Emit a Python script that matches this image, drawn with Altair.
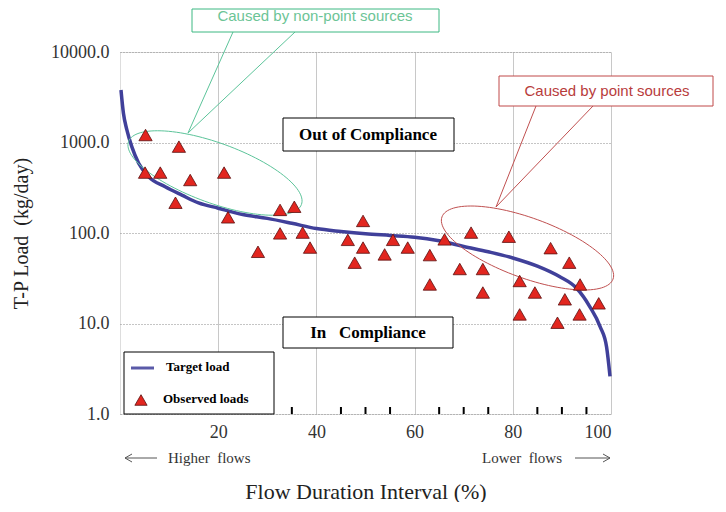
import altair as alt
import pandas as pd
import numpy as np

# ---------------- data ----------------
obs_x = [5.2, 12.0, 5.1, 8.2, 14.3, 21.2, 11.3, 22.0, 32.6, 35.5, 32.6, 28.1,
         37.2, 38.7, 49.5, 46.4, 49.5, 47.8, 55.6, 53.9, 58.6, 63.1, 63.1, 66.1, 69.2,
         71.5, 79.2, 87.7, 91.5, 93.7, 73.9, 73.9, 81.4, 84.5, 90.6, 97.5, 93.6, 81.4, 89.1]
obs_y = [1210, 900, 465, 465, 385, 465, 216, 149, 180, 195, 99, 62,
         101, 69, 136, 84, 69, 47, 84, 58, 69, 57, 27, 85, 40,
         101, 91, 68, 47, 27, 40, 22, 29.5, 22, 18.5, 16.7, 12.6, 12.6, 10.2]

target_x = [0.2, 0.7, 1.4, 2.4, 3.8, 5.8, 9.2, 12.6, 16, 20, 25, 30, 35, 40, 45, 50,
            55, 60, 65, 70, 75, 80, 85, 89.5, 93, 95.7, 97.8, 99.1, 99.8]
target_y = [3800, 2100, 1380, 900, 590, 420, 324, 262, 215, 188, 160, 145, 128, 112, 104, 98,
            94, 90, 82, 71, 62, 53, 43, 33, 24.5, 15.3, 9.2, 5.5, 2.6]

x_ticks = [20, 40, 60, 80, 100]
y_ticks = [1, 10, 100, 1000, 10000]
minor_ticks = [5, 10, 15, 25, 30, 35, 45, 50, 55, 65, 70, 75, 85, 90, 95]

W, H = 491, 362
SERIF = "Liberation Serif"
SANS = "Liberation Sans"

obs_df = pd.DataFrame({"x": obs_x, "y": obs_y})
tgt_df = pd.DataFrame({"x": target_x, "y": target_y})
minor_df = pd.DataFrame({"x": minor_ticks})

xscale = alt.Scale(domain=[0, 100], nice=False, zero=False)
yscale = alt.Scale(type="log", domain=[1, 10000], nice=False)


def ellipse_df(cx, cy, a, b, deg):
    # annotation outline, described in plot pixels, mapped into data units
    th = np.deg2rad(deg)
    t = np.linspace(0, 2 * np.pi, 121)
    px = cx + a * np.cos(th) * np.cos(t) - b * np.sin(th) * np.sin(t)
    py = cy + a * np.sin(th) * np.cos(t) + b * np.cos(th) * np.sin(t)
    return pd.DataFrame({"i": np.arange(len(t)), "x": px / W * 100,
                         "y": 10 ** (4 * (H - py) / H)})


one = pd.DataFrame({"a": [0]})

base_x = alt.X("x:Q", scale=xscale,
               axis=alt.Axis(values=x_ticks, grid=True, gridColor="#c8c8c8", gridWidth=1,
                             domain=False, ticks=False, labelFont=SERIF, labelFontSize=18,
                             labelColor="#333333", labelPadding=9,
                             title="Flow Duration Interval (%)", titleFont=SERIF,
                             titleFontSize=22, titleFontWeight="normal", titleColor="#222222",
                             titlePadding=40))
base_y = alt.Y("y:Q", scale=yscale,
               axis=alt.Axis(values=y_ticks, format=".1f", grid=True, gridColor="#8a8a8a",
                             gridDash=[1, 2], gridWidth=1, domain=False, ticks=False,
                             labelFont=SERIF, labelFontSize=18, labelColor="#333333",
                             labelPadding=11, title="T-P Load\u00a0\u00a0(kg/day)",
                             titleFont=SERIF, titleFontSize=20, titleFontWeight="normal",
                             titleColor="#222222", titlePadding=19))

curve = alt.Chart(tgt_df).mark_line(color="#40409a", strokeWidth=3.5,
                                    interpolate="monotone").encode(x=base_x, y=base_y)

pts = alt.Chart(obs_df).mark_point(shape="triangle-up", filled=True, size=175,
                                   fill="#e2261f", stroke="#5a1010", strokeWidth=0.8,
                                   opacity=1).encode(x=alt.X("x:Q", scale=xscale),
                                                     y=alt.Y("y:Q", scale=yscale))

minor = alt.Chart(minor_df).mark_rule(color="black", strokeWidth=2).encode(
    x=alt.X("x:Q", scale=xscale), y=alt.value(H - 7), y2=alt.value(H))

green_ell = alt.Chart(ellipse_df(95, 121, 92, 30, 20)).mark_line(
    color="#5cc49a", strokeWidth=1).encode(x=alt.X("x:Q", scale=xscale),
                                             y=alt.Y("y:Q", scale=yscale), order="i:Q")
red_ell = alt.Chart(ellipse_df(407.5, 196, 91, 30, 20)).mark_line(
    color="#c05050", strokeWidth=1).encode(x=alt.X("x:Q", scale=xscale),
                                             y=alt.Y("y:Q", scale=yscale), order="i:Q")


def rule(x1, y1, x2, y2, color, w=1):
    return alt.Chart(one).mark_rule(color=color, strokeWidth=w).encode(
        x=alt.value(x1), y=alt.value(y1), x2=alt.value(x2), y2=alt.value(y2))


def box(x1, y1, x2, y2, stroke, w=1):
    return alt.Chart(one).mark_rect(fill="white", stroke=stroke, strokeWidth=w).encode(
        x=alt.value(x1), y=alt.value(y1), x2=alt.value(x2), y2=alt.value(y2))


def label(txt, x, y, font=SERIF, size=17, weight="bold", color="black", align="center"):
    return alt.Chart(one).mark_text(text=txt, font=font, fontSize=size, fontWeight=weight,
                                    color=color, align=align, baseline="middle").encode(
        x=alt.value(x), y=alt.value(y))


layers = [
    minor, curve, green_ell, red_ell, pts,
    # callouts
    rule(113, -20, 68, 81, "#5cc49a"), rule(175, -20, 68, 81, "#5cc49a"),
    box(72, -43, 319, -20, "#3cb882"),
    label("Caused by non-point sources", 195, -36, font=SANS, size=15, weight="normal",
          color="#6cc496"),
    rule(416, 54, 376, 155, "#c05050"), rule(473, 54, 376, 155, "#c05050"),
    box(379, 24, 593, 54, "#c04848"),
    label("Caused by point sources", 487, 39, font=SANS, size=15, weight="normal",
          color="#b83c3c"),
    # region labels
    box(163, 66, 334, 99, "black"),
    label("Out of Compliance", 248, 83),
    box(163, 265, 333, 296, "black"),
    label("In\u00a0\u00a0\u00a0Compliance", 248, 281),
    # legend
    box(4, 300, 154, 362, "black"),
    rule(11, 316, 34, 316, "#5a5aa8", 3),
    label("Target load", 46, 315, size=13, align="left"),
    alt.Chart(one).mark_point(shape="triangle-up", filled=True, size=150, fill="#e2261f",
                              stroke="#5a1010", strokeWidth=0.8, opacity=1).encode(
        x=alt.value(21), y=alt.value(348)),
    label("Observed loads", 43, 347, size=13, align="left"),
    # flow direction arrows
    rule(5, 406, 37, 406, "#555555"), rule(5, 406, 12, 402, "#555555"),
    rule(5, 406, 12, 410, "#555555"),
    label("Higher\u00a0 flows", 48, 406, size=15, weight="normal", color="#333333",
          align="left"),
    rule(455, 406, 490, 406, "#555555"), rule(490, 406, 483, 402, "#555555"),
    rule(490, 406, 483, 410, "#555555"),
    label("Lower\u00a0 flows", 442, 406, size=15, weight="normal", color="#333333",
          align="right"),
]

chart = alt.layer(*layers).properties(
    width=W, height=H,
    autosize=alt.AutoSizeParams(type="none"),
    padding={"left": 112, "top": 44, "right": 103, "bottom": 88},
).configure_view(stroke="black", strokeWidth=3).configure(background="white")

chart.save("out.html", embed_options={"renderer": "svg", "actions": False})
